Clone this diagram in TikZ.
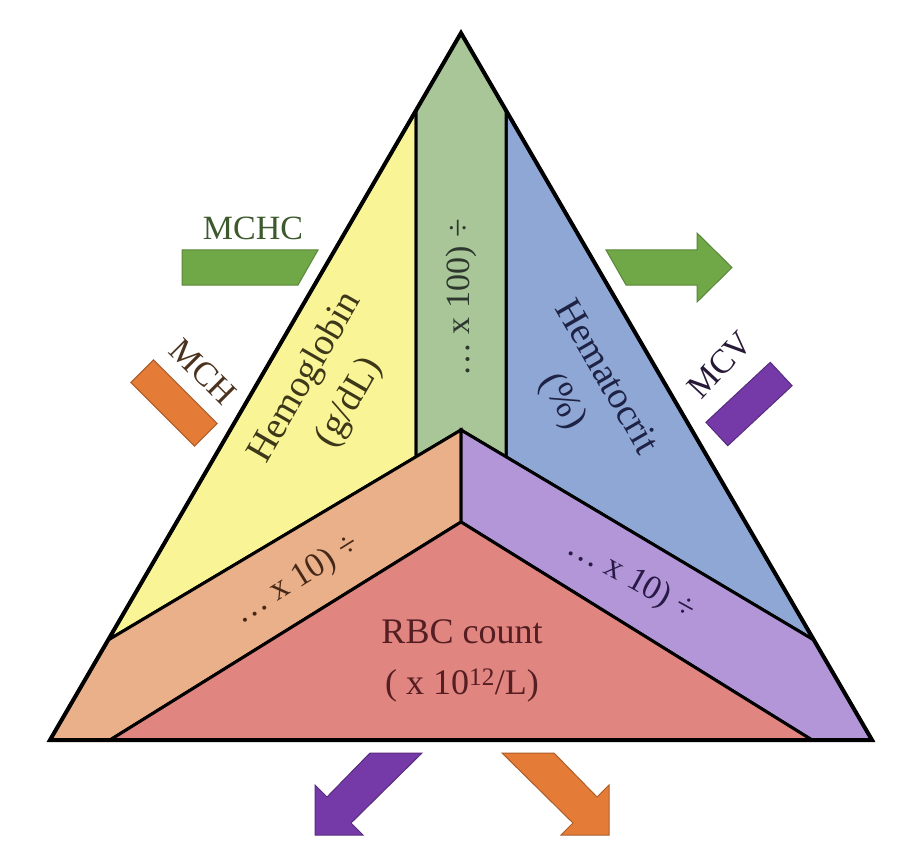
\documentclass[tikz,border=0pt]{standalone}
\usepackage{fontspec}
\setmainfont{Liberation Serif}
\usepackage{tikz}

\definecolor{hbYellow}{RGB}{249,245,150}
\definecolor{bandGreen}{RGB}{169,198,153}
\definecolor{hctBlue}{RGB}{143,167,212}
\definecolor{bandOrange}{RGB}{233,176,138}
\definecolor{bandPurple}{RGB}{178,150,215}
\definecolor{rbcRed}{RGB}{224,133,128}
\definecolor{arrGreen}{RGB}{112,168,72}
\definecolor{arrOrange}{RGB}{228,124,56}
\definecolor{arrPurple}{RGB}{118,58,168}

\tikzset{
  part/.style={draw=black,line width=3pt},
  lbl/.style={inner sep=0pt,align=center,font=\fontsize{34}{50}\selectfont},
  bigl/.style={lbl,font=\fontsize{38}{51}\selectfont},
  barbox/.style={line width=1pt,inner sep=0pt},
}

\begin{document}
\begin{tikzpicture}[x=1pt,y=-1pt]
\useasboundingbox (0,0) rectangle (912,850);
\fill[white] (0,0) rectangle (912,850);

% corners of the triangle and of the bands
\coordinate (A) at (461,33);
\coordinate (BL) at (50,740);
\coordinate (BR) at (872,740);
\coordinate (GL) at (416,110.4);
\coordinate (GR) at (506,110.4);
\coordinate (GLb) at (416,456.8);
\coordinate (GRb) at (506,456.8);
\coordinate (C1) at (461,430);
\coordinate (C2) at (461,522);
\coordinate (PL) at (108.2,640);
\coordinate (PR) at (813.8,640);
\coordinate (QL) at (110,740);
\coordinate (QR) at (812,740);

% the six parts
\filldraw[part,fill=hbYellow] (GL) -- (GLb) -- (PL) -- cycle;
\filldraw[part,fill=hctBlue] (GR) -- (GRb) -- (PR) -- cycle;
\filldraw[part,fill=bandGreen] (A) -- (GL) -- (GLb) -- (C1) -- (GRb) -- (GR) -- cycle;
\filldraw[part,fill=bandOrange] (C1) -- (PL) -- (BL) -- (QL) -- (C2) -- cycle;
\filldraw[part,fill=bandPurple] (C1) -- (PR) -- (BR) -- (QR) -- (C2) -- cycle;
\filldraw[part,fill=rbcRed] (C2) -- (QL) -- (QR) -- cycle;
\draw[line width=4pt] (A) -- (BL) -- (BR) -- cycle;

% texts inside
\node[bigl,rotate=60,text={rgb,255:red,60;green,55;blue,25}] (hb) at (306,378) {Hemoglobin};
\node[bigl,rotate=60,text={rgb,255:red,60;green,55;blue,25}] (hbUnit) at (350,403) {(g/dL)};
\node[bigl,rotate=-60,text={rgb,255:red,30;green,35;blue,70}] (hct) at (608,376) {Hematocrit};
\node[bigl,rotate=-60,text={rgb,255:red,30;green,35;blue,70}] (hctUnit) at (562,402) {(\%)};
\node[lbl,rotate=90,text={rgb,255:red,45;green,55;blue,45}] (div100) at (461,298) {\ldots\ x 100) ÷};
\node[lbl,rotate=32,text={rgb,255:red,70;green,40;blue,25}] (hbDiv) at (297,580) {\ldots\ x 10) ÷};
\node[lbl,rotate=-29,text={rgb,255:red,40;green,25;blue,70}] (hctDiv) at (631,579) {\ldots\ x 10) ÷};
\node[lbl,font=\fontsize{36}{53}\selectfont,text={rgb,255:red,85;green,30;blue,35}] (rbc) at (462,632) {RBC count};
\node[lbl,font=\fontsize{36}{53}\selectfont,text={rgb,255:red,85;green,30;blue,35}] (rbcUnit) at (462,685) {( x 10\textsuperscript{12}/L)};

% MCHC
\node[lbl,text={rgb,255:red,60;green,90;blue,45}] (mchc) at (253,228) {MCHC};
\filldraw[barbox,fill=arrGreen,draw=arrGreen!80!black] (182,250) -- (318,250) -- (298,285) -- (182,285) -- cycle;
\filldraw[barbox,fill=arrGreen,draw=arrGreen!80!black] (606,250) -- (697,250) -- (697,233) -- (732,267.5) -- (697,302) -- (697,285) -- (626,285) -- cycle;

% MCH
\node[lbl,rotate=-45,text={rgb,255:red,75;green,50;blue,30}] (mch) at (203,372) {MCH};
\node[barbox,rotate=-45,minimum width=90pt,minimum height=32pt,fill=arrOrange,draw=arrOrange!75!black] (mchBar) at (174,403) {};
\filldraw[barbox,fill=arrOrange,draw=arrOrange!75!black] (502,753) -- (554,753) -- (597,797) -- (609,785) -- (609,835) -- (561,835) -- (573,823) -- cycle;

% MCV
\node[lbl,rotate=47,text={rgb,255:red,40;green,25;blue,55}] (mcv) at (720,365) {MCV};
\node[barbox,rotate=43,minimum width=88pt,minimum height=32pt,fill=arrPurple,draw=arrPurple!75!black] (mcvBar) at (749,404) {};
\filldraw[barbox,fill=arrPurple,draw=arrPurple!75!black] (422,753) -- (370,753) -- (327,797) -- (315,785) -- (315,835) -- (363,835) -- (351,823) -- cycle;
\end{tikzpicture}
\end{document}
